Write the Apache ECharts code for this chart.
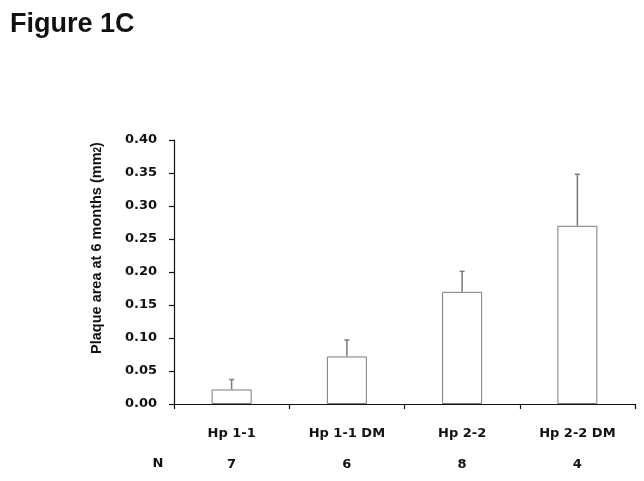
<!DOCTYPE html>
<html>
<head>
<meta charset="utf-8">
<script src="https://cdn.jsdelivr.net/npm/echarts@6/dist/echarts.min.js"></script>
<style>html,body{margin:0;padding:0;background:#fff;}#c{width:644px;height:481px;}</style>
</head>
<body>
<div id="c"></div>
<script>
var categories = ['Hp 1-1', 'Hp 1-1 DM', 'Hp 2-2', 'Hp 2-2 DM'];
var means = [0.022, 0.072, 0.170, 0.270];
var errors = [0.015, 0.025, 0.031, 0.078];
var nValues = [7, 6, 8, 4];
var yTicks = [0, 0.05, 0.10, 0.15, 0.20, 0.25, 0.30, 0.35, 0.40];

var chart = echarts.init(document.getElementById('c'), null, {renderer: 'canvas'});
var labelFont = 'DejaVu Sans';
var errData = means.map(function (m, i) { return [i, m, m + errors[i]]; });

chart.setOption({
  animation: false,
  backgroundColor: '#fff',
  title: {
    text: 'Figure 1C', left: 5, top: 6,
    textStyle: {fontFamily: 'Liberation Sans', fontWeight: 'bold', fontSize: 27, color: '#111'}
  },
  graphic: [
    {
      type: 'text', x: 97, y: 248, rotation: Math.PI / 2,
      style: {
        text: 'Plaque area at 6 months (mm{s|2})',
        rich: {s: {fontSize: 10, fontWeight: 'bold', fontFamily: 'Liberation Sans', fill: '#111', padding: [3, 0, 0, 0]}},
        font: 'bold 14.5px "Liberation Sans"', fill: '#111',
        align: 'center', verticalAlign: 'middle'
      }
    },
    {
      type: 'text', x: 158, y: 464,
      style: {text: 'N', font: 'bold 13px "DejaVu Sans"', fill: '#111', align: 'center', verticalAlign: 'middle'}
    }
  ],
  grid: {left: 174, right: 9, top: 140, bottom: 77, containLabel: false},
  xAxis: {
    type: 'category', data: categories,
    axisLine: {lineStyle: {color: '#111', width: 1.2}},
    axisTick: {show: true, length: 5, lineStyle: {color: '#111', width: 1.2}},
    axisLabel: {
      margin: 14, interval: 0,
      formatter: function (v, i) { return '{c|' + v + '}\n{n|' + nValues[i] + '}'; },
      rich: {
        c: {fontFamily: labelFont, fontWeight: 'bold', fontSize: 13, color: '#111', lineHeight: 31},
        n: {fontFamily: labelFont, fontWeight: 'bold', fontSize: 13, color: '#111', lineHeight: 31}
      }
    }
  },
  yAxis: {
    type: 'value', min: 0, max: 0.4, interval: 0.05,
    axisLine: {show: true, lineStyle: {color: '#111', width: 1.2}},
    axisTick: {show: true, length: 5, lineStyle: {color: '#111', width: 1.2}},
    splitLine: {show: false},
    axisLabel: {
      margin: 17, fontFamily: labelFont, fontWeight: 'bold', fontSize: 13, color: '#111',
      formatter: function (v) { return v.toFixed(2); }
    }
  },
  series: [
    {
      type: 'bar', data: means, barWidth: 40,
      itemStyle: {color: '#fff', borderColor: '#7a7a7a', borderWidth: 1}
    },
    {
      type: 'custom', data: errData,
      renderItem: function (params, api) {
        var x = api.value(0);
        var p0 = api.coord([x, api.value(1)]);
        var p1 = api.coord([x, api.value(2)]);
        var st = {stroke: '#7a7a7a', lineWidth: 1.5};
        return {
          type: 'group',
          children: [
            {type: 'line', shape: {x1: p0[0], y1: p0[1], x2: p1[0], y2: p1[1]}, style: st},
            {type: 'line', shape: {x1: p1[0] - 2.5, y1: p1[1], x2: p1[0] + 2.5, y2: p1[1]}, style: st}
          ]
        };
      },
      z: 3
    }
  ]
});
</script>
</body>
</html>
